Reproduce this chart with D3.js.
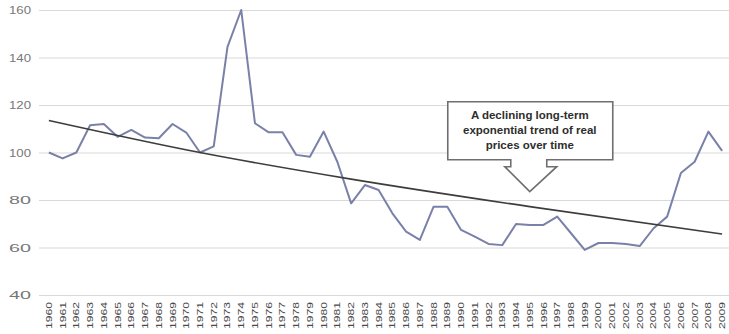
<!DOCTYPE html>
<html>
<head>
<meta charset="utf-8">
<script src="https://cdn.jsdelivr.net/npm/d3@7"></script>
<style>
  html, body { margin: 0; padding: 0; background: #fff; }
  svg { display: block; }
</style>
</head>
<body>
<svg id="chart" width="729" height="334"></svg>
<script>
// Real price index, 1960–2009
const years = d3.range(1960, 2010).map(String);
const priceIndex = [
  100, 97.5, 100, 111.5, 112, 106.6, 109.5, 106.3, 106, 112,
  108.4, 100, 102.6, 144.5, 160, 112.3, 108.5, 108.5, 99, 98.2,
  108.8, 96, 78.6, 86.3, 84.2, 74.4, 66.7, 63.2, 77.2, 77.2,
  67.4, 64.6, 61.5, 61, 69.9, 69.5, 69.5, 73, 66, 59,
  61.9, 61.9, 61.5, 60.6, 68, 73, 91.4, 96.1, 108.8, 100.7
];
// Long-term exponential trend, sampled at a few years
const trendYears = ["1960", "1971", "1982", "1995", "2009"];
const trendValues = [113.5, 100, 88.8, 77.2, 65.7];
const yTicks = [40, 60, 80, 100, 120, 140, 160];
const calloutLines = ["A declining long-term", "exponential trend of real", "prices over time"];
const calloutYear = "1995";
const calloutValue = 83.5;

const svg = d3.select("#chart");

const x = d3.scaleBand().domain(years).range([42, 729]).padding(0);
const cx = d => x(d) + x.bandwidth() / 2;
const y = d3.scaleLinear().domain([40, 160]).range([295, 10]);

// Horizontal gridlines and value labels
const yAxis = d3.axisLeft(y).tickValues(yTicks).tickSize(-(729 - 39)).tickPadding(8);
const gy = svg.append("g").attr("transform", "translate(39,0)").call(yAxis);
gy.select(".domain").remove();
gy.selectAll(".tick line").attr("stroke", "#d9d9d9").attr("stroke-width", 1);
gy.selectAll(".tick text")
  .attr("font-family", "Liberation Sans, Arial, sans-serif")
  .attr("font-size", 11)
  .attr("fill", "#777")
  .attr("textLength", 22)
  .attr("lengthAdjust", "spacingAndGlyphs");

// Year labels, rotated
const xAxis = d3.axisBottom(x).tickSize(0).tickPadding(0);
const gx = svg.append("g").attr("transform", "translate(0,295)").call(xAxis);
gx.select(".domain").remove();
gx.selectAll(".tick text")
  .attr("font-family", "Liberation Sans, Arial, sans-serif")
  .attr("font-size", 9)
  .attr("fill", "#4a4a4a")
  .attr("text-anchor", "end")
  .attr("dominant-baseline", "central")
  .attr("dy", null)
  .attr("y", 0)
  .attr("x", -7)
  .attr("textLength", 27)
  .attr("lengthAdjust", "spacingAndGlyphs")
  .attr("transform", "rotate(-90)");

// Price series
const line = d3.line().x((d, i) => cx(years[i])).y(d => y(d));
svg.append("path")
  .datum(priceIndex)
  .attr("fill", "none")
  .attr("stroke", "#7a81a8")
  .attr("stroke-width", 2)
  .attr("stroke-linejoin", "round")
  .attr("d", line);

// Trend curve
const trendLine = d3.line()
  .x((d, i) => cx(trendYears[i]))
  .y(d => y(d))
  .curve(d3.curveMonotoneX);
svg.append("path")
  .datum(trendValues)
  .attr("fill", "none")
  .attr("stroke", "#3d3d3d")
  .attr("stroke-width", 1.6)
  .attr("d", trendLine);

// Callout box with a downward arrow
const tipX = cx(calloutYear), tipY = y(calloutValue);
const boxL = tipX - 82, boxR = tipX + 83, boxT = tipY - 90, boxB = tipY - 32;
const shaftL = tipX - 19, shaftR = tipX + 17, neckY = tipY - 25;
const headL = tipX - 25, headR = tipX + 27;
const callout = d3.path();
callout.moveTo(boxL, boxT);
callout.lineTo(boxR, boxT);
callout.lineTo(boxR, boxB);
callout.lineTo(shaftR, boxB);
callout.lineTo(shaftR, neckY);
callout.lineTo(headR, neckY);
callout.lineTo(tipX, tipY);
callout.lineTo(headL, neckY);
callout.lineTo(shaftL, neckY);
callout.lineTo(shaftL, boxB);
callout.lineTo(boxL, boxB);
callout.closePath();
svg.append("path")
  .attr("d", callout.toString())
  .attr("fill", "#fff")
  .attr("stroke", "#6f6f6f")
  .attr("stroke-width", 1.6)
  .attr("stroke-linejoin", "miter");

svg.append("g")
  .selectAll("text")
  .data(calloutLines)
  .join("text")
  .attr("x", tipX)
  .attr("y", (d, i) => boxT + 13 + i * 15)
  .attr("text-anchor", "middle")
  .attr("dominant-baseline", "central")
  .attr("font-family", "Liberation Sans, Arial, sans-serif")
  .attr("font-weight", "bold")
  .attr("font-size", 11.5)
  .attr("fill", "#2e2e2e")
  .text(d => d);
</script>
</body>
</html>
